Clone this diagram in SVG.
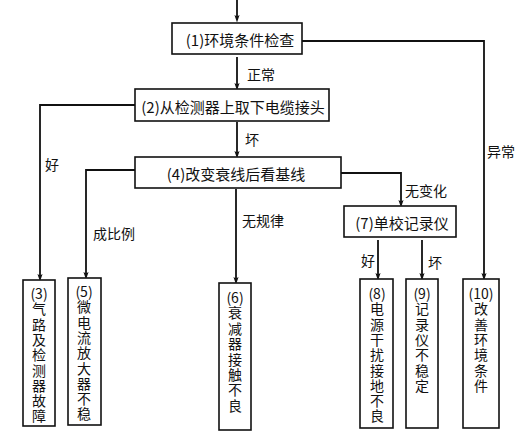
<svg xmlns="http://www.w3.org/2000/svg" width="531" height="436" viewBox="0 0 531 436">
<style>
.box{fill:#fff;stroke:#111;stroke-width:1.6}
.t{font-family:"Noto Sans CJK SC","Liberation Sans",sans-serif;font-size:15px;fill:#111;text-anchor:middle;dominant-baseline:central}
.v{font-family:"Noto Sans CJK SC","Liberation Sans",sans-serif;font-size:14px;fill:#111;text-anchor:middle;dominant-baseline:central}
.l{font-family:"Noto Sans CJK SC","Liberation Sans",sans-serif;font-size:14px;fill:#111;dominant-baseline:central}
.c{fill:none;stroke:#111;stroke-width:1.8}
</style>
<defs>
<marker id="d" markerUnits="userSpaceOnUse" markerWidth="8" markerHeight="10" refX="5" refY="4" orient="auto" viewBox="0 0 10 8">
<path d="M0,0.8 L9.5,4 L0,7.2 L2,4 Z" fill="#111"/>
</marker>
</defs>
<g id="connectors">
<path class="c" d="M237,0 V19" marker-end="url(#d)"/>
<path class="c" d="M237,57 V87" marker-end="url(#d)"/>
<path class="c" d="M302,41 H484 V277" marker-end="url(#d)"/>
<path class="c" d="M135,105 H40 V278" marker-end="url(#d)"/>
<path class="c" d="M237,122 V155" marker-end="url(#d)"/>
<path class="c" d="M135,170 H86 V276" marker-end="url(#d)"/>
<path class="c" d="M236,189 V281" marker-end="url(#d)"/>
<path class="c" d="M341,173 H401 V204" marker-end="url(#d)"/>
<path class="c" d="M378,240 V277" marker-end="url(#d)"/>
<path class="c" d="M422,240 V277" marker-end="url(#d)"/>
<text class="l" x="247" y="74">正常</text>
<text class="l" x="245" y="139">坏</text>
<text class="l" x="45" y="164">好</text>
<text class="l" x="487" y="151">异常</text>
<text class="l" x="93" y="233">成比例</text>
<text class="l" x="242" y="220">无规律</text>
<text class="l" x="405" y="190">无变化</text>
<text class="l" x="361" y="260">好</text>
<text class="l" x="428" y="262">坏</text>
</g>
<g id="n1"><rect class="box" x="172" y="23" width="130" height="31" stroke-width="2.2"/><text class="t" x="240" y="39">(1)环境条件检查</text></g>
<g id="n2"><rect class="box" x="135" y="89" width="194" height="32"/><text class="t" x="233" y="106">(2)从检测器上取下电缆接头</text></g>
<g id="n4"><rect class="box" x="135" y="157" width="206" height="31"/><text class="t" x="236" y="173">(4)改变衰线后看基线</text></g>
<g id="n7"><rect class="box" x="344" y="206" width="112" height="31"/><text class="t" x="402" y="222">(7)单校记录仪</text></g>
<g id="n3"><rect class="box" x="23" y="280" width="32" height="146"/>
<text class="v" x="39"><tspan x="39" y="293">(3)</tspan><tspan x="39" y="308.3">气</tspan><tspan x="39" y="323.6">路</tspan><tspan x="39" y="338.9">及</tspan><tspan x="39" y="354.2">检</tspan><tspan x="39" y="369.5">测</tspan><tspan x="39" y="384.8">器</tspan><tspan x="39" y="400.1">故</tspan><tspan x="39" y="415.4">障</tspan></text></g>
<g id="n5"><rect class="box" x="68" y="278" width="33" height="147"/>
<text class="v" x="84"><tspan x="84" y="291">(5)</tspan><tspan x="84" y="306.3">微</tspan><tspan x="84" y="321.6">电</tspan><tspan x="84" y="336.9">流</tspan><tspan x="84" y="352.2">放</tspan><tspan x="84" y="367.5">大</tspan><tspan x="84" y="382.8">器</tspan><tspan x="84" y="398.1">不</tspan><tspan x="84" y="413.4">稳</tspan></text></g>
<g id="n6"><rect class="box" x="219" y="283" width="32" height="147"/>
<text class="v" x="235"><tspan x="235" y="297">(6)</tspan><tspan x="235" y="312.4">衰</tspan><tspan x="235" y="327.8">减</tspan><tspan x="235" y="343.2">器</tspan><tspan x="235" y="358.6">接</tspan><tspan x="235" y="374">触</tspan><tspan x="235" y="389.4">不</tspan><tspan x="235" y="404.8">良</tspan></text></g>
<g id="n8"><rect class="box" x="360" y="279" width="33" height="149"/>
<text class="v" x="377"><tspan x="377" y="293">(8)</tspan><tspan x="377" y="308.3">电</tspan><tspan x="377" y="323.6">源</tspan><tspan x="377" y="338.9">干</tspan><tspan x="377" y="354.2">扰</tspan><tspan x="377" y="369.5">接</tspan><tspan x="377" y="384.8">地</tspan><tspan x="377" y="400.1">不</tspan><tspan x="377" y="415.4">良</tspan></text></g>
<g id="n9"><rect class="box" x="406" y="279" width="32" height="149"/>
<text class="v" x="422"><tspan x="422" y="293">(9)</tspan><tspan x="422" y="308.3">记</tspan><tspan x="422" y="323.6">录</tspan><tspan x="422" y="338.9">仪</tspan><tspan x="422" y="354.2">不</tspan><tspan x="422" y="369.5">稳</tspan><tspan x="422" y="384.8">定</tspan></text></g>
<g id="n10"><rect class="box" x="463" y="279" width="36" height="149"/>
<text class="v" x="481"><tspan x="481" y="293">(10)</tspan><tspan x="481" y="308.3">改</tspan><tspan x="481" y="323.6">善</tspan><tspan x="481" y="338.9">环</tspan><tspan x="481" y="354.2">境</tspan><tspan x="481" y="369.5">条</tspan><tspan x="481" y="384.8">件</tspan></text></g>
</svg>
